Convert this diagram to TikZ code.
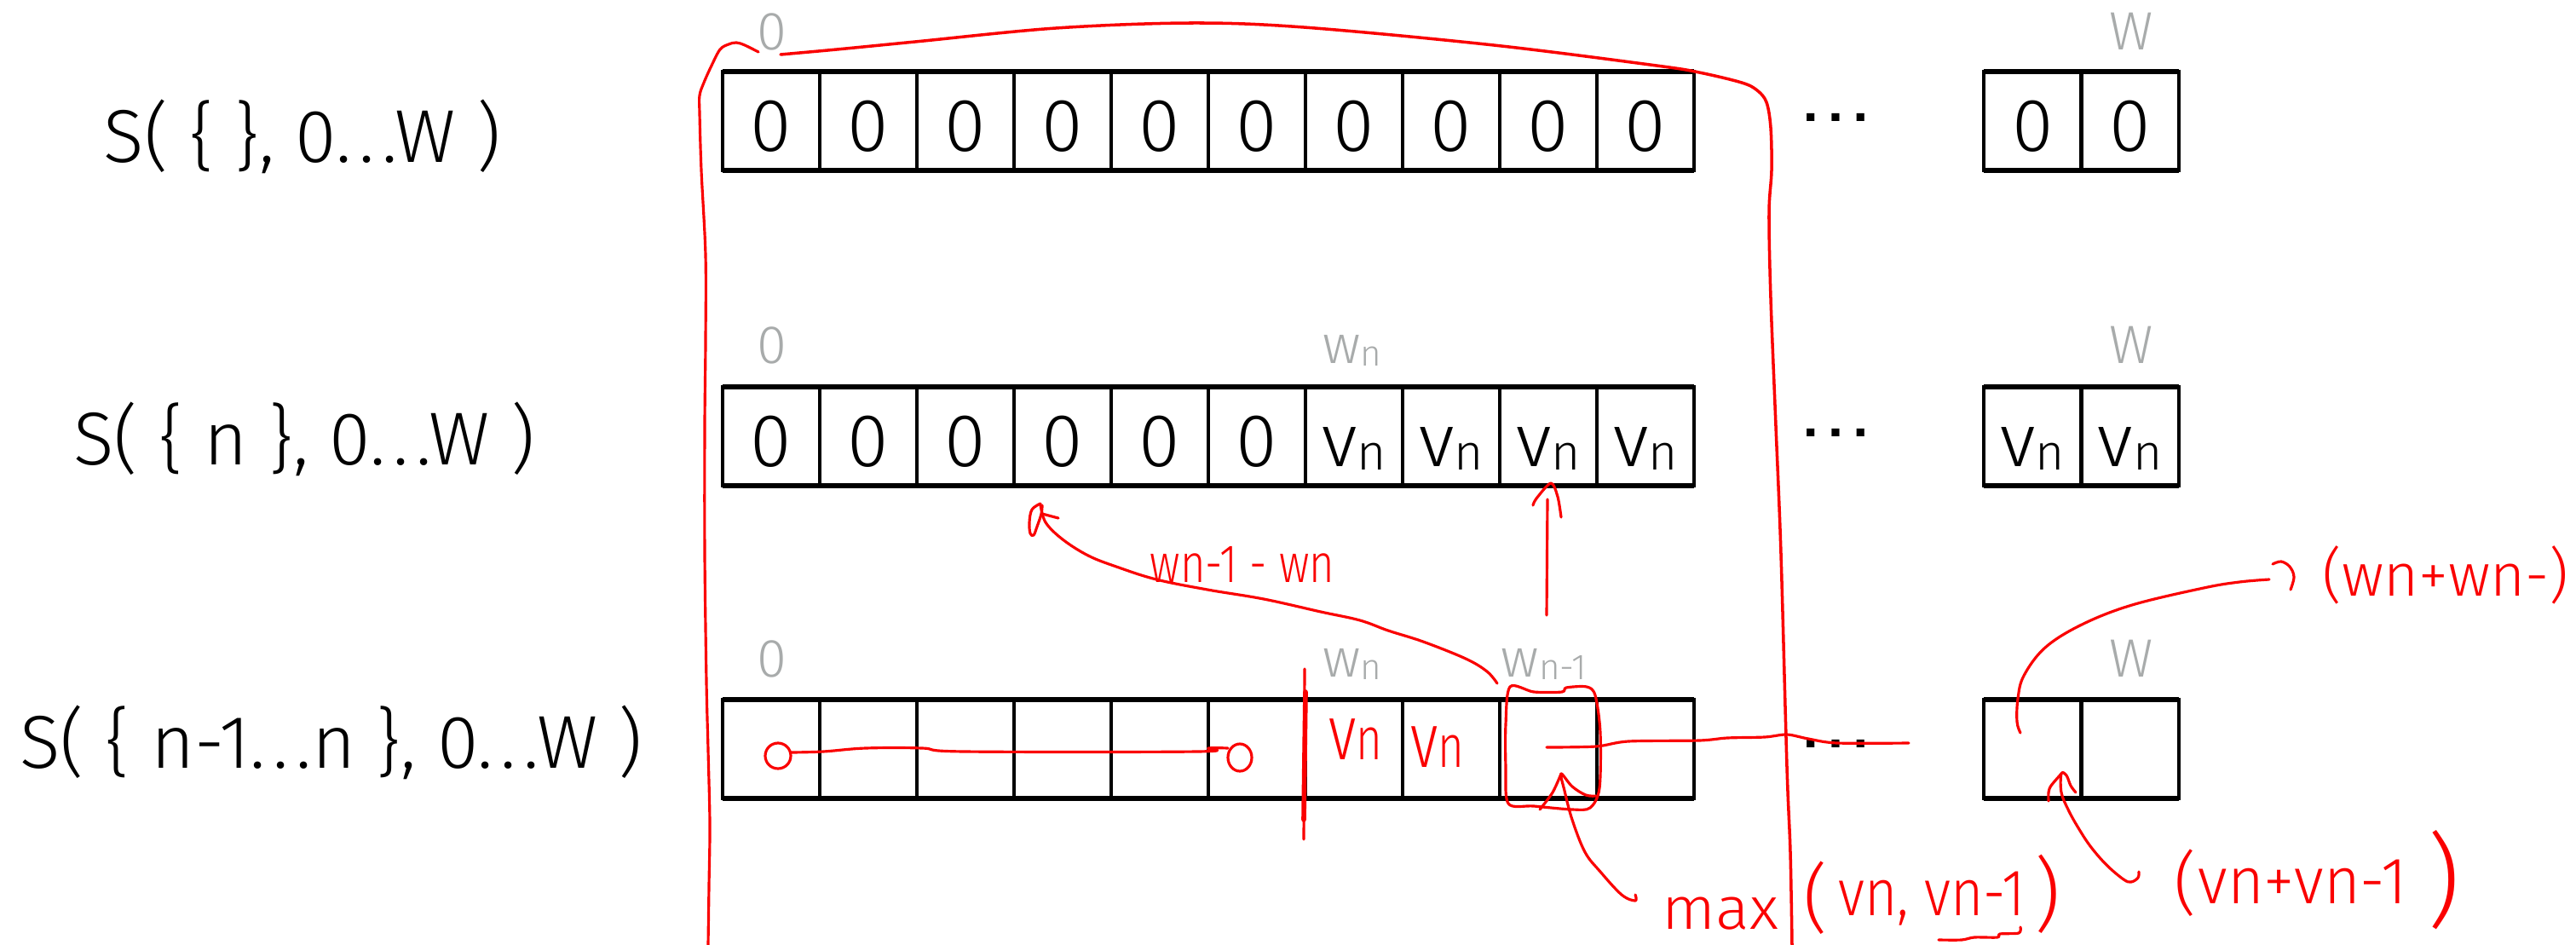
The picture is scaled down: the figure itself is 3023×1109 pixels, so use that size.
\documentclass[tikz,border=0pt]{standalone}
\usepackage{fontspec}
\usepackage{graphicx}
\setmainfont{Fira Sans Light}
\newfontfamily\dotsfont{TeX Gyre Heros}
\definecolor{lbl}{RGB}{168,171,171}
\definecolor{inkred}{RGB}{250,0,0}

% value with a lowered subscript, as printed in the table cells
\newcommand\cellv{v\raisebox{-1.4pt}{\fontsize{16.7}{18}\selectfont n}}
% grey index with a lowered subscript
\newcommand\wsub[1]{w\raisebox{-1.1pt}{\fontsize{12}{14}\selectfont #1}}
% widely spaced ellipsis used in the row titles
\newcommand\wdots{.\kern0.1em.\kern0.1em.}

\tikzset{
  cell/.style={draw=black, line width=1.35pt, minimum width=1.14cm, minimum height=1.16cm,
    inner sep=0pt, outer sep=0pt, anchor=north west, text height=0.70cm, text depth=0cm,
    font=\fontsize{25}{30}\selectfont},
  rowlabel/.style={anchor=base, inner sep=0pt, font=\fontsize{25}{30}\selectfont},
  idx/.style={anchor=base, inner sep=0pt, text=lbl, font=\fontsize{18}{22}\selectfont},
  dots/.style={anchor=base, inner sep=0pt, font=\dotsfont\fontsize{25}{30}\selectfont},
  edge/.style={line width=1.7pt},
  ink/.style={draw=inkred, line width=0.9pt, line cap=round, line join=round},
  hand/.style={inner sep=0pt, text=inkred},
}

\begin{document}
\begin{tikzpicture}[x=0.01cm, y=-0.01cm]
\useasboundingbox[fill=white] (0,0) rectangle (3023,1109);

% ---------- row 1: S({}, 0..W)
\node[rowlabel] (s1) at (355,190) {S( \{ \}, 0\wdots W )};
\foreach \i in {0,...,9} \node[cell] (a\i) at ({848+114*\i},84) {0};
\foreach \k in {0,1} \node[cell, minimum width=1.145cm] (ae\k) at ({2328+114.5*\k},84) {0};
\draw[edge] (a0.north west) -- (a9.north east) (a0.south west) -- (a9.south east);
\draw[edge] (ae0.north west) -- (ae1.north east) (ae0.south west) -- (ae1.south east);
\node[dots] (d1) at (2154,142) {…};
\node[idx] (i1a) at (906,58) {0};
\node[idx] (i1b) at (2501,58) {W};

% ---------- row 2: S({n}, 0..W)
\node[rowlabel] (s2) at (357,545) {S( \{ n \}, 0\wdots W )};
\foreach \i/\t in {0/0,1/0,2/0,3/0,4/0,5/0,6/\cellv,7/\cellv,8/\cellv,9/\cellv}
  \node[cell] (b\i) at ({848+114*\i},454) {\t};
\foreach \k in {0,1} \node[cell, minimum width=1.145cm] (be\k) at ({2328+114.5*\k},454) {\cellv};
\draw[edge] (b0.north west) -- (b9.north east) (b0.south west) -- (b9.south east);
\draw[edge] (be0.north west) -- (be1.north east) (be0.south west) -- (be1.south east);
\node[dots] (d2) at (2154,512) {…};
\node[idx] (i2a) at (906,426) {0};
\node[idx] (i2b) at (1587,426) {\wsub{n}};
\node[idx] (i2c) at (2501,426) {W};

% ---------- row 3: S({n-1..n}, 0..W)
\node[rowlabel] (s3) at (389,901) {S( \{ n-1\wdots n \}, 0\wdots W )};
\foreach \i in {0,...,9} \node[cell] (c\i) at ({848+114*\i},821) {};
\foreach \k in {0,1} \node[cell, minimum width=1.145cm] (ce\k) at ({2328+114.5*\k},821) {};
\draw[edge] (c0.north west) -- (c9.north east) (c0.south west) -- (c9.south east);
\draw[edge] (ce0.north west) -- (ce1.north east) (ce0.south west) -- (ce1.south east);
\node[dots] (d3) at (2154,877) {…};
\node[idx] (i3a) at (906,794) {0};
\node[idx] (i3b) at (1587,794) {\wsub{n}};
\node[idx] (i3c) at (1812,794) {\wsub{n-1}};
\node[idx] (i3d) at (2501,794) {W};

% ---------- red pen annotations
% left stroke of the bracket
\draw[ink] plot[smooth, tension=0.55] coordinates {(890,61) (874,53) (864,50) (855,52) (845,58) (835,77)
  (826,97) (821,112) (821,133) (823,200) (828,300) (828,400) (827,500) (827,650) (829,800) (831,880)
  (833,967) (832,1040) (831,1109)};
% top arc and right stroke of the bracket
\draw[ink, line width=1pt] plot[smooth, tension=0.55] coordinates {(916,64) (982,58) (1074,49) (1239,33)
  (1397,27) (1530,32) (1753,53) (1944,77) (1994,85) (2044,97) (2062,106) (2073,120) (2078,150)
  (2079,200) (2076,250) (2078,350) (2084,500) (2090,650) (2097,900) (2101,1000) (2103,1109)};

% arrow from w_{n-1} back to w_{n-1}-w_n
\draw[ink] plot[smooth, tension=0.6] coordinates {(1757,802) (1745,788) (1720,773) (1670,753) (1629,740)
  (1596,728) (1550,718) (1483,703) (1417,692) (1357,680) (1310,665) (1277,652) (1247,633) (1227,613)
  (1221,592)};
\draw[ink] plot[smooth, tension=0.6] coordinates {(1221,591) (1211,598) (1208,613) (1209,626) (1213,628)
  (1217,618) (1222,603) (1223,593)};
\draw[ink] (1223,603) -- (1242,608);
\node[hand, font=\fontsize{18}{20}\selectfont] (t1) at (1458,662) {\scalebox{0.8}[1]{wn-1 - wn}};

% straight-up arrow into the row above
\draw[ink] (1815,722) -- (1816,586);
\draw[ink] plot[smooth, tension=0.5] coordinates {(1799,593) (1803,585) (1820,567) (1828,583) (1832,607)};

% run of equal entries in the last row
\draw[ink] (913,887) ellipse [x radius=15, y radius=15];
\draw[ink] plot[smooth, tension=0.6] coordinates {(928,883) (966,882) (1016,878) (1082,878) (1132,882)
  (1405,882) (1418,878) (1441,878)};
\draw[ink] (1455,889) ellipse [x radius=14, y radius=16];

% split mark at w_n
\draw[ink] (1531,785) -- (1530,985);
\draw[ink, line width=1.6pt] (1532,812) -- (1530,962);

\node[hand, font=\fontsize{26}{28}\selectfont] (t2) at (1591,868)
  {\scalebox{0.75}[1]{v{\fontsize{20}{22}\selectfont n}}};
\node[hand, font=\fontsize{26}{28}\selectfont] (t3) at (1687,877)
  {\scalebox{0.75}[1]{v{\fontsize{20}{22}\selectfont n}}};

% circled cell at w_{n-1}
\draw[ink] plot[smooth cycle, tension=0.5] coordinates {(1772,806) (1800,812) (1833,812) (1838,807)
  (1862,806) (1872,816) (1878,860) (1877,925) (1866,948) (1845,950) (1800,946) (1770,943)
  (1767,900) (1767,850)};

% line from the circled cell towards the end of the row
\draw[ink] plot[smooth, tension=0.5] coordinates {(1815,877) (1873,876) (1911,870) (1994,869) (2027,866)
  (2071,865) (2097,862) (2122,867) (2156,872) (2240,872)};

% pointer to max(...)
\draw[ink] plot[smooth, tension=0.6] coordinates {(1919,1050) (1919,1057) (1903,1050) (1878,1023)
  (1860,1000) (1845,962) (1836,928) (1832,908) (1845,923) (1861,933) (1873,934)};
\draw[ink] plot[smooth, tension=0.5] coordinates {(1832,908) (1822,930) (1807,950)};
\node[hand, font=\fontsize{20}{22}\selectfont, anchor=base] (m1) at (2019,1090) {\scalebox{1.05}[1]{max}};
\node[hand, font=\fontsize{25}{27}\selectfont] (m2) at (2131,1054) {(};
\node[hand, font=\fontsize{22}{24}\selectfont] (m3) at (2267,1055) {\scalebox{0.85}[1]{vn, vn-1}};
\node[hand, font=\fontsize{27}{29}\selectfont] (m4) at (2403,1049) {)};
\draw[ink] plot[smooth, tension=0.5] coordinates {(2275,1103) (2302,1103) (2317,1100) (2344,1100)
  (2347,1096) (2369,1095) (2371,1088)};

% pointer from the last cell up to (w_n + w_{n-1})
\draw[ink] plot[smooth, tension=0.6] coordinates {(2371,860) (2367,847) (2368,820) (2375,793) (2400,760)
  (2443,733) (2502,710) (2586,690) (2628,683) (2663,680)};
\draw[ink] plot[smooth, tension=0.6] coordinates {(2667,662) (2677,659) (2687,665) (2692,677) (2688,692)};
\node[hand, font=\fontsize{20}{22}\selectfont] (r1) at (2870,675) {(wn+wn-)};

% pointer to (v_n + v_{n-1})
\draw[ink] plot[smooth, tension=0.6] coordinates {(2510,1023) (2509,1030) (2501,1035) (2492,1032)
  (2472,1015) (2453,993) (2438,970) (2427,950) (2419,930) (2419,908) (2425,910) (2430,922) (2436,930)};
\draw[ink] plot[smooth, tension=0.5] coordinates {(2419,908) (2407,922) (2404,930) (2404,940)};
\node[hand, font=\fontsize{23}{25}\selectfont] (p1) at (2565,1036) {(};
\node[hand, font=\fontsize{22}{24}\selectfont] (p2) at (2702,1035) {\scalebox{0.95}[1]{vn+vn-1}};
\node[hand, font=\fontsize{34}{36}\selectfont] (p3) at (2868,1033) {)};
\end{tikzpicture}
\end{document}
